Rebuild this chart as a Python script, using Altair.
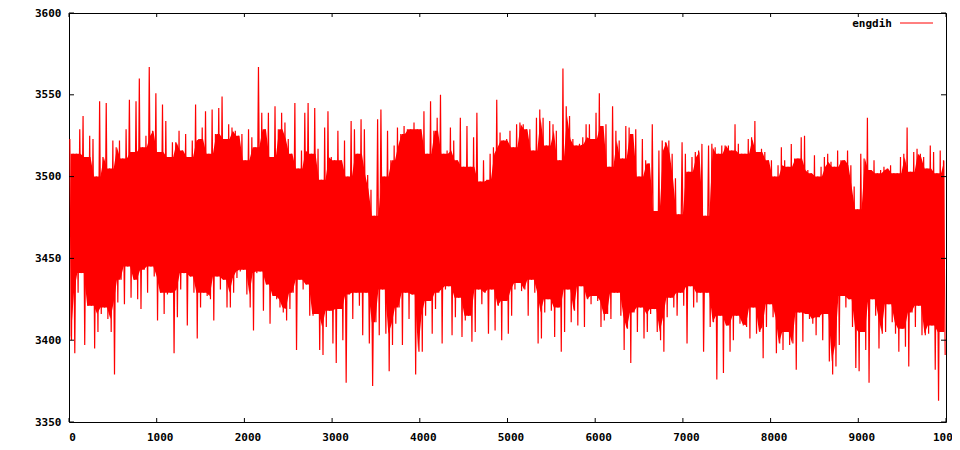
import altair as alt
import pandas as pd

series_name = "engdih"

# upper extremes of the trace, read window by window (~38 steps each)
upper = [
    3523, 3514, 3514, 3529, 3537, 3512, 3525, 3523, 3500, 3546,
    3512, 3545, 3505, 3522, 3518, 3522, 3511, 3529, 3547, 3515,
    3546, 3560, 3518, 3525, 3567, 3528, 3551, 3515, 3544, 3534,
    3512, 3521, 3521, 3528, 3516, 3526, 3512, 3522, 3544, 3523,
    3530, 3540, 3514, 3541, 3526, 3542, 3549, 3523, 3532, 3530,
    3528, 3525, 3526,
    3510, 3529, 3524, 3518, 3567, 3539, 3529, 3539, 3512, 3543,
    3529, 3539, 3533, 3523, 3514, 3545, 3505, 3516, 3539, 3545,
    3514, 3542, 3517, 3498, 3530, 3540, 3512, 3510, 3528, 3510,
    3522, 3500, 3534, 3529, 3514, 3535, 3529, 3501, 3492, 3476,
    3535, 3541, 3500, 3528, 3510, 3519, 3530, 3526, 3531, 3529,
    3529, 3533, 3529,
    3529, 3540, 3514, 3546, 3528, 3536, 3550, 3514, 3516, 3530,
    3522, 3510, 3536, 3506, 3531, 3506, 3524, 3539, 3497, 3510,
    3498, 3514, 3518, 3547, 3527, 3522, 3523, 3528, 3518, 3532,
    3533, 3532, 3529, 3529, 3516, 3536, 3541, 3536, 3519, 3534,
    3532, 3528, 3510, 3566, 3543, 3537, 3523, 3519, 3520, 3524,
    3532, 3532, 3523,
    3539, 3551, 3531, 3532, 3506, 3543, 3528, 3522, 3511, 3531,
    3530, 3526, 3529, 3500, 3523, 3510, 3508, 3532, 3479, 3516,
    3522, 3521, 3522, 3514, 3499, 3477, 3521, 3514, 3503, 3512,
    3515, 3516, 3520, 3476, 3519, 3520, 3518, 3514, 3519, 3519,
    3519, 3516, 3532, 3520, 3514, 3514, 3523, 3524, 3534, 3515,
    3517, 3515, 3510,
    3510, 3500, 3507, 3518, 3510, 3506, 3520, 3511, 3511, 3524,
    3525, 3504, 3502, 3513, 3500, 3506, 3512, 3514, 3509, 3506,
    3516, 3510, 3510, 3516, 3507, 3494, 3480, 3514, 3511, 3536,
    3504, 3510, 3502, 3504, 3506, 3505, 3507, 3502, 3502, 3512,
    3514, 3530, 3503, 3515, 3517, 3514, 3512, 3505, 3519, 3515,
    3502, 3516, 3510,
]

# lower extremes of the trace, same windows
lower = [
    3400, 3392, 3429, 3441, 3397, 3421, 3421, 3395, 3405, 3416,
    3420, 3413, 3405, 3379, 3423, 3437, 3422, 3445, 3426, 3437,
    3425, 3419, 3443, 3429, 3445, 3439, 3412, 3429, 3416, 3428,
    3429, 3392, 3414, 3431, 3441, 3409, 3439, 3429, 3401, 3420,
    3429, 3427, 3425, 3412, 3439, 3431, 3437, 3420, 3420, 3429,
    3438, 3442, 3443,
    3428, 3420, 3406, 3441, 3442, 3418, 3434, 3410, 3427, 3425,
    3420, 3417, 3412, 3419, 3429, 3394, 3437, 3431, 3434, 3415,
    3415, 3416, 3394, 3391, 3408, 3418, 3398, 3386, 3419, 3400,
    3374, 3428, 3413, 3429, 3421, 3403, 3429, 3398, 3372, 3411,
    3403, 3431, 3404, 3381, 3397, 3410, 3420, 3397, 3429, 3413,
    3428, 3379, 3393,
    3393, 3415, 3424, 3404, 3419, 3429, 3398, 3431, 3433, 3403,
    3414, 3426, 3402, 3412, 3415, 3399, 3405, 3431, 3422, 3429,
    3404, 3431, 3406, 3421, 3400, 3424, 3404, 3415, 3431, 3435,
    3430, 3431, 3415, 3437, 3429, 3398, 3401, 3417, 3425, 3418,
    3402, 3420, 3393, 3405, 3431, 3411, 3418, 3409, 3433, 3408,
    3425, 3422, 3427,
    3424, 3408, 3412, 3416, 3413, 3429, 3429, 3415, 3394, 3407,
    3386, 3417, 3405, 3420, 3401, 3405, 3416, 3419, 3405, 3400,
    3393, 3414, 3426, 3420, 3415, 3429, 3421, 3398, 3433, 3420,
    3423, 3429, 3393, 3429, 3408, 3411, 3376, 3415, 3380, 3409,
    3393, 3400, 3415, 3410, 3409, 3408, 3401, 3420, 3404, 3405,
    3389, 3408, 3422,
    3414, 3392, 3398, 3394, 3405, 3397, 3398, 3382, 3417, 3399,
    3416, 3413, 3410, 3403, 3414, 3400, 3416, 3387, 3379, 3384,
    3397, 3427, 3420, 3425, 3408, 3383, 3381, 3405, 3394, 3374,
    3425, 3415, 3395, 3404, 3405, 3422, 3411, 3404, 3393, 3407,
    3396, 3384, 3417, 3408, 3421, 3403, 3403, 3404, 3409, 3382,
    3363, 3405, 3391,
]

x_ticks = [0, 1000, 2000, 3000, 4000, 5000, 6000, 7000, 8000, 9000, 10000]
y_ticks = [3350, 3400, 3450, 3500, 3550, 3600]

W, H = 877, 409
RED = "#ff0000"
FONT = "DejaVu Sans Mono"

n = min(len(upper), len(lower))
stp = 10000 / n

# one row per window (for the dense body of the trace)
wdf = pd.DataFrame({
    "step": [(i + 0.5) * stp for i in range(n)],
    "upper": upper[:n],
    "lower": lower[:n],
})

# the trace itself: top then bottom of every window
rows = []
for i in range(n):
    rows.append({"step": (i + 0.25) * stp, "value": upper[i]})
    rows.append({"step": (i + 0.75) * stp, "value": lower[i]})
df = pd.DataFrame(rows)

xs = alt.Scale(domain=[0, 10000], nice=False, zero=False)
ys = alt.Scale(domain=[3350, 3600], nice=False, zero=False)

x_axis = alt.Axis(values=x_ticks, format="d", title="", ticks=False, tickSize=0,
                  domain=False, grid=False, labelFont=FONT, labelFontSize=11,
                  labelFontWeight="bold", labelColor="black", labelPadding=9,
                  labelFlush=False, labelOffset=3)
y_axis = alt.Axis(values=y_ticks, format="d", title="", ticks=False, tickSize=0,
                  domain=False, grid=False, labelFont=FONT, labelFontSize=11,
                  labelFontWeight="bold", labelColor="black", labelPadding=8)

# dense body: where neighbouring windows overlap
body = alt.Chart(wdf).transform_window(
    window=[
        {"op": "min", "field": "upper", "as": "inner_hi"},
        {"op": "max", "field": "lower", "as": "inner_lo"},
    ],
    frame=[-1, 1],
    sort=[{"field": "step"}],
).mark_area(color=RED, opacity=1, interpolate="linear").encode(
    x=alt.X("step:Q", scale=xs, axis=x_axis),
    y=alt.Y("inner_lo:Q", scale=ys, axis=y_axis),
    y2="inner_hi:Q",
)

trace = alt.Chart(df).mark_line(color=RED, strokeWidth=1.2).encode(
    x=alt.X("step:Q", scale=xs),
    y=alt.Y("value:Q", scale=ys),
)

xt = pd.DataFrame({"t": x_ticks})
yt = pd.DataFrame({"t": y_ticks})
tick_bottom = alt.Chart(xt).mark_rule(color="black").encode(
    x=alt.X("t:Q", scale=xs), y=alt.value(H), y2=alt.value(H - 4))
tick_top = alt.Chart(xt).mark_rule(color="black").encode(
    x=alt.X("t:Q", scale=xs), y=alt.value(0), y2=alt.value(4))
tick_left = alt.Chart(yt).mark_rule(color="black").encode(
    y=alt.Y("t:Q", scale=ys), x=alt.value(0), x2=alt.value(5))
tick_right = alt.Chart(yt).mark_rule(color="black").encode(
    y=alt.Y("t:Q", scale=ys), x=alt.value(W - 5), x2=alt.value(W))

leg = pd.DataFrame({"name": [series_name]})
leg_text = alt.Chart(leg).mark_text(
    align="right", baseline="middle", font=FONT, fontSize=11,
    fontWeight="bold", color="black").encode(
    text="name:N", x=alt.value(823), y=alt.value(11))
leg_line = alt.Chart(leg).mark_rule(color=RED, strokeWidth=1).encode(
    x=alt.value(831), x2=alt.value(864), y=alt.value(10))

chart = alt.layer(
    body, trace, tick_bottom, tick_top, tick_left, tick_right, leg_text, leg_line
).properties(
    width=W, height=H,
    autosize=alt.AutoSizeParams(type="none"),
    padding={"left": 61, "top": 5, "right": 6, "bottom": 20},
    background="white",
).configure_view(stroke="black", strokeWidth=1)

chart.save("out.html", embed_options={"renderer": "svg", "actions": False})
